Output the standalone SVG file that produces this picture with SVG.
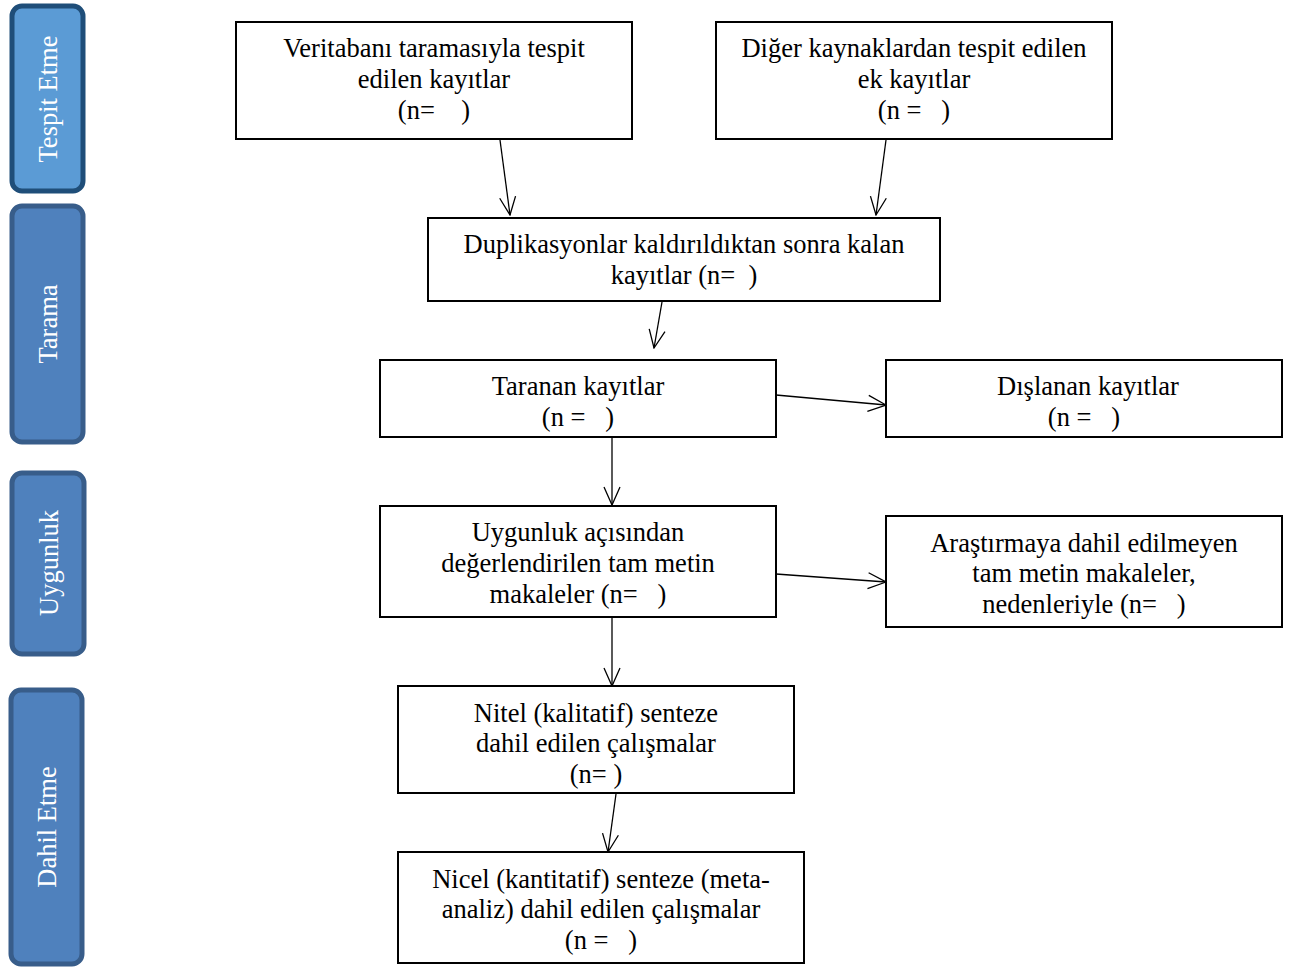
<svg xmlns="http://www.w3.org/2000/svg" width="1290" height="967" viewBox="0 0 1290 967">
<style>
.bx{fill:#fff;stroke:#000;stroke-width:2}
.t{font-family:"Liberation Serif","Times New Roman",serif;font-size:26.5px;fill:#000;text-anchor:middle;white-space:pre}
.s{font-family:"Liberation Serif","Times New Roman",serif;font-size:26.5px;fill:#fff;text-anchor:middle}
.c{stroke:#000;stroke-width:1.3;fill:none}
.sb1{fill:#5b9bd5;stroke:#1f4e79;stroke-width:5}
.sb2{fill:#4f81bd;stroke:#385d8a;stroke-width:5}
</style>
<defs>
<marker id="a" viewBox="0 0 20 20" refX="19" refY="10" markerWidth="20" markerHeight="20" markerUnits="userSpaceOnUse" orient="auto">
<path d="M1,2 L19,10 L1,18" fill="none" stroke="#000" stroke-width="1.3"/>
</marker>
</defs>
<rect width="1290" height="967" fill="#fff"/>
<g id="side-tespit"><rect class="sb1" x="12" y="6" width="71" height="185" rx="10"/><text class="s" transform="translate(57,99) rotate(-90)">Tespit Etme</text></g>
<g id="side-tarama"><rect class="sb2" x="12" y="206" width="71" height="236" rx="10"/><text class="s" transform="translate(57,324) rotate(-90)">Tarama</text></g>
<g id="side-uygunluk"><rect class="sb2" x="12" y="473" width="72" height="181" rx="10"/><text class="s" transform="translate(58,563) rotate(-90)">Uygunluk</text></g>
<g id="side-dahil"><rect class="sb2" x="11" y="690" width="71" height="274" rx="10"/><text class="s" transform="translate(56,827) rotate(-90)">Dahil Etme</text></g>

<g id="n1"><rect class="bx" x="236" y="22" width="396" height="117"/><text class="t" x="434" y="57">Veritabanı taramasıyla tespit</text><text class="t" x="434" y="88">edilen kayıtlar</text><text class="t" x="434" y="119">(n=    )</text></g>
<g id="n2"><rect class="bx" x="716" y="22" width="396" height="117"/><text class="t" x="914" y="57">Diğer kaynaklardan tespit edilen</text><text class="t" x="914" y="88">ek kayıtlar</text><text class="t" x="914" y="119">(n =   )</text></g>
<g id="n3"><rect class="bx" x="428" y="218" width="512" height="83"/><text class="t" x="684" y="253">Duplikasyonlar kaldırıldıktan sonra kalan</text><text class="t" x="684" y="284">kayıtlar (n=  )</text></g>
<g id="n4"><rect class="bx" x="380" y="360" width="396" height="77"/><text class="t" x="578" y="395">Taranan kayıtlar</text><text class="t" x="578" y="426">(n =   )</text></g>
<g id="n5"><rect class="bx" x="886" y="360" width="396" height="77"/><text class="t" x="1088" y="395">Dışlanan kayıtlar</text><text class="t" x="1084" y="426">(n =   )</text></g>
<g id="n6"><rect class="bx" x="380" y="506" width="396" height="111"/><text class="t" x="578" y="541">Uygunluk açısından</text><text class="t" x="578" y="572">değerlendirilen tam metin</text><text class="t" x="578" y="603">makaleler (n=   )</text></g>
<g id="n7"><rect class="bx" x="886" y="516" width="396" height="111"/><text class="t" x="1084" y="552">Araştırmaya dahil edilmeyen</text><text class="t" x="1084" y="582">tam metin makaleler,</text><text class="t" x="1084" y="613">nedenleriyle (n=   )</text></g>
<g id="n8"><rect class="bx" x="398" y="686" width="396" height="107"/><text class="t" x="596" y="722">Nitel (kalitatif) senteze</text><text class="t" x="596" y="752">dahil edilen çalışmalar</text><text class="t" x="596" y="783">(n= )</text></g>
<g id="n9"><rect class="bx" x="398" y="852" width="406" height="111"/><text class="t" x="601" y="888">Nicel (kantitatif) senteze (meta-</text><text class="t" x="601" y="918">analiz) dahil edilen çalışmalar</text><text class="t" x="601" y="949">(n =   )</text></g>

<g id="connectors">
<line class="c" x1="500" y1="140" x2="510" y2="215" marker-end="url(#a)"/>
<line class="c" x1="886" y1="140" x2="876" y2="215" marker-end="url(#a)"/>
<line class="c" x1="662" y1="302" x2="654" y2="348" marker-end="url(#a)"/>
<line class="c" x1="776" y1="395" x2="886" y2="405" marker-end="url(#a)"/>
<line class="c" x1="612" y1="438" x2="612" y2="505" marker-end="url(#a)"/>
<line class="c" x1="776" y1="574" x2="886" y2="582" marker-end="url(#a)"/>
<line class="c" x1="612" y1="618" x2="612" y2="686" marker-end="url(#a)"/>
<line class="c" x1="616" y1="794" x2="608" y2="852" marker-end="url(#a)"/>
</g>
</svg>
